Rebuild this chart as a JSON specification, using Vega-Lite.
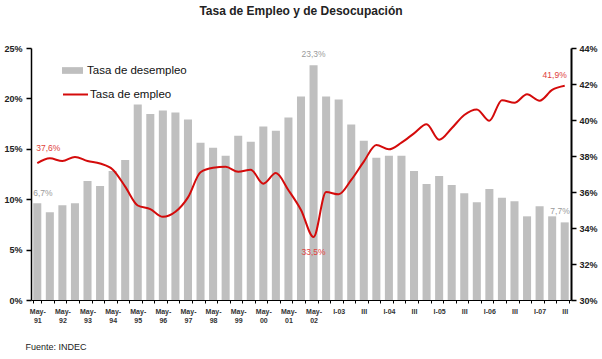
{
  "$schema": "https://vega.github.io/schema/vega-lite/v6.json",
  "width": 540,
  "height": 252,
  "autosize": "none",
  "padding": {"left": 31, "top": 48, "right": 31, "bottom": 59},
  "background": "white",
  "title": {"text": "Tasa de Empleo y de Desocupación", "font": "Liberation Sans", "fontSize": 12, "fontWeight": "bold", "color": "#222", "offset": 26},
  "data": {"values": [
    {"periodo": "May-91", "desempleo": 0.096, "empleo": 0.376, "etiqueta_des": "6,7%", "etiqueta_emp": "37,6%"},
    {"periodo": "Oct-91", "desempleo": 0.087, "empleo": 0.3787},
    {"periodo": "May-92", "desempleo": 0.094, "empleo": 0.3772},
    {"periodo": "Oct-92", "desempleo": 0.096, "empleo": 0.3795},
    {"periodo": "May-93", "desempleo": 0.118, "empleo": 0.3772},
    {"periodo": "Oct-93", "desempleo": 0.113, "empleo": 0.3758},
    {"periodo": "May-94", "desempleo": 0.128, "empleo": 0.3725},
    {"periodo": "Oct-94", "desempleo": 0.139, "empleo": 0.363},
    {"periodo": "May-95", "desempleo": 0.194, "empleo": 0.3525},
    {"periodo": "Oct-95", "desempleo": 0.1845, "empleo": 0.3505},
    {"periodo": "May-96", "desempleo": 0.188, "empleo": 0.3462},
    {"periodo": "Oct-96", "desempleo": 0.186, "empleo": 0.349},
    {"periodo": "May-97", "desempleo": 0.179, "empleo": 0.357},
    {"periodo": "Oct-97", "desempleo": 0.156, "empleo": 0.371},
    {"periodo": "May-98", "desempleo": 0.151, "empleo": 0.3735},
    {"periodo": "Oct-98", "desempleo": 0.143, "empleo": 0.374},
    {"periodo": "May-99", "desempleo": 0.163, "empleo": 0.3712},
    {"periodo": "Oct-99", "desempleo": 0.157, "empleo": 0.3724},
    {"periodo": "May-00", "desempleo": 0.172, "empleo": 0.3646},
    {"periodo": "Oct-00", "desempleo": 0.168, "empleo": 0.3705},
    {"periodo": "May-01", "desempleo": 0.181, "empleo": 0.361},
    {"periodo": "Oct-01", "desempleo": 0.202, "empleo": 0.35},
    {"periodo": "May-02", "desempleo": 0.233, "empleo": 0.335, "etiqueta_des": "23,3%", "etiqueta_emp": "33,5%"},
    {"periodo": "Oct-02", "desempleo": 0.202, "empleo": 0.36},
    {"periodo": "I-03", "desempleo": 0.199, "empleo": 0.3587},
    {"periodo": "II-03", "desempleo": 0.174, "empleo": 0.3667},
    {"periodo": "III-03", "desempleo": 0.158, "empleo": 0.3769},
    {"periodo": "IV-03", "desempleo": 0.141, "empleo": 0.3861},
    {"periodo": "I-04", "desempleo": 0.143, "empleo": 0.3837},
    {"periodo": "II-04", "desempleo": 0.143, "empleo": 0.3874},
    {"periodo": "III-04", "desempleo": 0.128, "empleo": 0.3926},
    {"periodo": "IV-04", "desempleo": 0.115, "empleo": 0.3976},
    {"periodo": "I-05", "desempleo": 0.123, "empleo": 0.389},
    {"periodo": "II-05", "desempleo": 0.114, "empleo": 0.3954},
    {"periodo": "III-05", "desempleo": 0.106, "empleo": 0.4028},
    {"periodo": "IV-05", "desempleo": 0.097, "empleo": 0.4059},
    {"periodo": "I-06", "desempleo": 0.11, "empleo": 0.3996},
    {"periodo": "II-06", "desempleo": 0.1015, "empleo": 0.411},
    {"periodo": "III-06", "desempleo": 0.098, "empleo": 0.4096},
    {"periodo": "IV-06", "desempleo": 0.083, "empleo": 0.4143},
    {"periodo": "I-07", "desempleo": 0.093, "empleo": 0.4107},
    {"periodo": "II-07", "desempleo": 0.083, "empleo": 0.4167},
    {"periodo": "III-07", "desempleo": 0.077, "empleo": 0.419, "etiqueta_des": "7,7%", "etiqueta_emp": "41,9%"}
  ]},
  "encoding": {
    "x": {
      "field": "periodo", "type": "nominal", "sort": null,
      "scale": {"paddingInner": 0.36, "paddingOuter": 0.18},
      "axis": {
        "title": "Fuente: INDEC", "titleFont": "Liberation Sans", "titleFontSize": 9, "titleFontWeight": "normal", "titleColor": "#222",
        "titleAnchor": "start", "titleAlign": "left", "titleX": -6, "titleY": 46, "titleBaseline": "middle",
        "labelAngle": 0, "labelFont": "Liberation Sans", "labelFontSize": 7, "labelFontWeight": "bold", "labelColor": "#333",
        "labelPadding": 4, "labelLineHeight": 9, "labelOverlap": false, "labelBound": false,
        "labelExpr": "test(/^(Oct|II-|IV-)/, datum.value) ? '' : (test(/^May/, datum.value) ? [slice(datum.value, 0, 4), slice(datum.value, 4)] : (test(/^III-/, datum.value) ? 'III' : datum.value))",
        "tickBand": "extent", "tickSize": 3, "tickColor": "#000", "domainColor": "#000", "domainWidth": 1.2
      }
    }
  },
  "layer": [
    {
      "encoding": {
        "y": {"field": "desempleo", "type": "quantitative",
          "scale": {"domain": [0, 0.25], "nice": false},
          "axis": {"orient": "left", "title": null, "values": [0, 0.05, 0.1, 0.15, 0.2, 0.25], "format": ".0%", "grid": false,
            "labelFont": "Liberation Sans", "labelFontSize": 9, "labelFontWeight": "bold", "labelColor": "#222", "labelPadding": 4,
            "tickSize": 5, "tickColor": "#000", "tickWidth": 1.5, "domainColor": "#000", "domainWidth": 1.5}}
      },
      "layer": [
        {
          "mark": {"type": "bar"},
          "encoding": {
            "fill": {"datum": "Tasa de desempleo", "type": "nominal", "scale": {"range": ["#bfbfbf"]},
              "legend": {"orient": "none", "legendX": 31, "legendY": 12, "title": null, "padding": 0,
                "symbolType": "M-1,-0.32H1V0.32H-1Z", "symbolSize": 441, "symbolStrokeWidth": 0,
                "labelFont": "Liberation Sans", "labelFontSize": 11.5, "labelColor": "#111", "labelOffset": 4}}
          }
        },
        {
          "transform": [{"filter": "datum.periodo == 'May-91'"}],
          "mark": {"type": "text", "align": "left", "baseline": "middle", "dx": -4, "dy": -10, "font": "Liberation Sans", "fontSize": 8.5, "color": "#9a9a9a"},
          "encoding": {"text": {"field": "etiqueta_des"}}
        },
        {
          "transform": [{"filter": "datum.periodo == 'May-02'"}],
          "mark": {"type": "text", "align": "center", "baseline": "middle", "dy": -11, "font": "Liberation Sans", "fontSize": 8.5, "color": "#9a9a9a"},
          "encoding": {"text": {"field": "etiqueta_des"}}
        },
        {
          "transform": [{"filter": "datum.periodo == 'III-07'"}],
          "mark": {"type": "text", "align": "right", "baseline": "middle", "dx": 5, "dy": -11, "font": "Liberation Sans", "fontSize": 8.5, "color": "#9a9a9a"},
          "encoding": {"text": {"field": "etiqueta_des"}}
        }
      ]
    },
    {
      "encoding": {
        "y": {"field": "empleo", "type": "quantitative",
          "scale": {"domain": [0.30, 0.44], "nice": false, "zero": false},
          "axis": {"orient": "right", "title": null, "values": [0.30, 0.32, 0.34, 0.36, 0.38, 0.40, 0.42, 0.44], "format": ".0%", "grid": false,
            "labelFont": "Liberation Sans", "labelFontSize": 9, "labelFontWeight": "bold", "labelColor": "#222", "labelPadding": 3,
            "tickSize": 5, "tickColor": "#000", "tickWidth": 1.5, "domainColor": "#000", "domainWidth": 2}}
      },
      "layer": [
        {
          "mark": {"type": "line", "interpolate": "monotone", "strokeWidth": 2},
          "encoding": {
            "stroke": {"datum": "Tasa de empleo", "type": "nominal", "scale": {"range": ["#d40b0b"]},
              "legend": {"orient": "none", "legendX": 31, "legendY": 33, "title": null, "padding": 0,
                "symbolType": "stroke", "symbolSize": 625, "symbolStrokeWidth": 2,
                "labelFont": "Liberation Sans", "labelFontSize": 11.5, "labelColor": "#111", "labelOffset": 1}}
          }
        },
        {
          "transform": [{"filter": "datum.periodo == 'May-91'"}],
          "mark": {"type": "text", "align": "left", "baseline": "middle", "dx": -1, "dy": -15, "font": "Liberation Sans", "fontSize": 8.5, "color": "#e0403a"},
          "encoding": {"text": {"field": "etiqueta_emp"}}
        },
        {
          "transform": [{"filter": "datum.periodo == 'May-02'"}],
          "mark": {"type": "text", "align": "center", "baseline": "middle", "dy": 15, "font": "Liberation Sans", "fontSize": 8.5, "color": "#e0403a"},
          "encoding": {"text": {"field": "etiqueta_emp"}}
        },
        {
          "transform": [{"filter": "datum.periodo == 'III-07'"}],
          "mark": {"type": "text", "align": "right", "baseline": "middle", "dx": 2, "dy": -11, "font": "Liberation Sans", "fontSize": 8.5, "color": "#e0403a"},
          "encoding": {"text": {"field": "etiqueta_emp"}}
        }
      ]
    }
  ],
  "resolve": {"scale": {"y": "independent"}},
  "config": {"view": {"stroke": null}}
}
